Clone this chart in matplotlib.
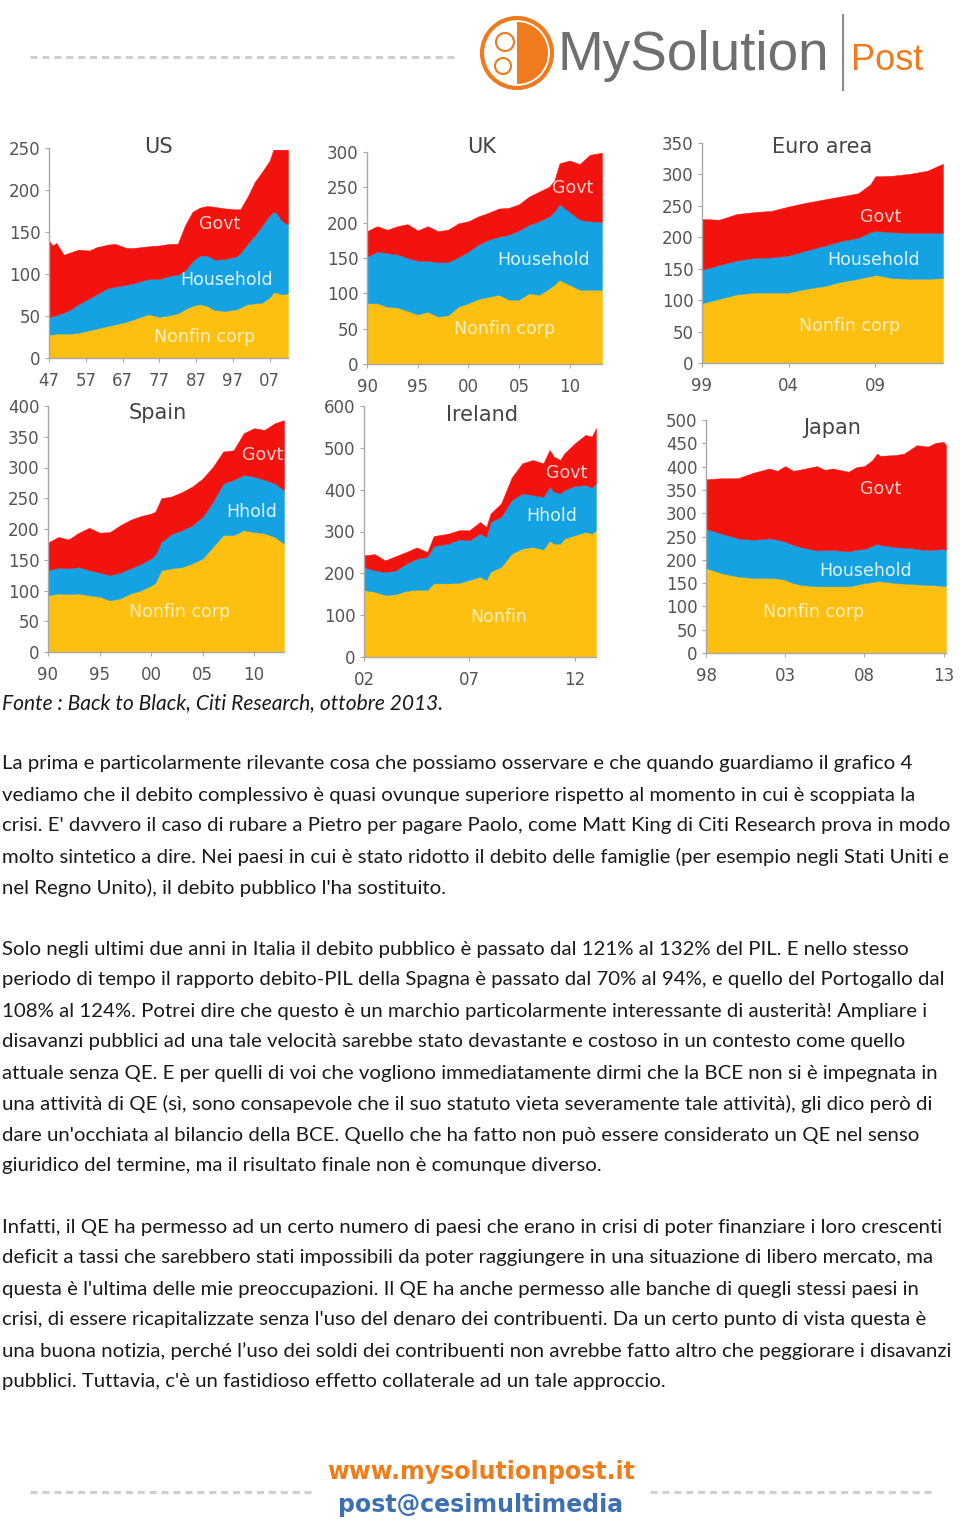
import matplotlib
matplotlib.use('Agg')
import matplotlib.pyplot as plt
from matplotlib.patches import Circle, Wedge

# colori delle aree
C_NONFIN = '#fdbf10'
C_HHOLD = '#14a2e2'
C_GOVT = '#f2130f'

# ---- dati (debito in % del PIL) ----
us_year = [1947, 1948, 1949, 1951, 1953, 1955, 1958, 1960, 1963, 1965, 1968, 1970, 1974, 1977, 1980, 1982, 1984,
           1986, 1988, 1990, 1992, 1995, 1998, 1999, 2001, 2003, 2005, 2007, 2008, 2009, 2010, 2011, 2012]
us_nonfin = [28, 28, 29, 29, 29, 30, 33, 35, 38, 40, 43, 46, 52, 49, 51, 53, 58, 62, 64, 62, 57, 56, 58, 60, 64,
             65, 66, 72, 78, 78, 76, 76, 77]
us_hhold = [20, 22, 22, 25, 29, 34, 38, 41, 45, 45, 44, 43, 42, 45, 47, 46, 46, 53, 58, 60, 60, 62, 63, 65, 72,
            81, 92, 98, 96, 94, 89, 85, 82]
us_govt = [92, 84, 86, 69, 68, 65, 57, 56, 52, 51, 44, 42, 39, 40, 38, 37, 54, 59, 57, 59, 63, 60, 56, 52, 56,
           64, 64, 65, 74, 76, 83, 87, 89]

uk_year = [1990, 1991, 1992, 1993, 1994, 1995, 1996, 1997, 1998, 1999, 2000, 2001, 2002, 2003, 2004, 2005, 2006,
           2007, 2008, 2008.5, 2009, 2010, 2011, 2012, 2013.2]
uk_nonfin = [86, 86, 81, 80, 75, 70, 74, 67, 69, 81, 86, 92, 95, 98, 91, 91, 100, 98, 107, 112, 119, 112, 105,
             105, 105]
uk_hhold = [66, 73, 76, 75, 75, 76, 72, 77, 75, 70, 73, 77, 81, 82, 92, 98, 97, 104, 102, 104, 107, 103, 99, 97, 96]
uk_govt = [36, 36, 33, 40, 48, 43, 49, 44, 46, 48, 43, 40, 38, 40, 38, 37, 40, 42, 42, 44, 58, 73, 79, 94, 98]

ea_year = [1999, 2000, 2001, 2002, 2003, 2004, 2005, 2006, 2007, 2008, 2008.7, 2009, 2010, 2011, 2012, 2012.9]
ea_nonfin = [95, 102, 109, 112, 112, 112, 118, 122, 129, 134, 138, 140, 135, 134, 134, 135]
ea_hhold = [53, 54, 54, 55, 56, 59, 61, 64, 65, 65, 70, 70, 73, 73, 73, 72]
ea_govt = [81, 72, 74, 73, 74, 78, 76, 74, 71, 71, 76, 87, 90, 94, 99, 110]

es_year = [1990, 1991, 1992, 1993, 1994, 1995, 1996, 1997, 1998, 1999, 2000, 2000.4, 2001, 2002, 2003, 2004,
           2005, 2006, 2007, 2008, 2009, 2010, 2011, 2012, 2012.9]
es_nonfin = [92, 95, 94, 95, 92, 90, 84, 87, 95, 100, 108, 112, 133, 136, 138, 144, 152, 171, 190, 190, 198, 195,
             193, 187, 176]
es_hhold = [41, 42, 42, 43, 41, 39, 41, 42, 41, 43, 44, 46, 46, 56, 60, 62, 68, 73, 84, 90, 90, 90, 87, 87, 87]
es_govt = [45, 50, 47, 56, 69, 65, 70, 77, 79, 78, 73, 70, 71, 61, 62, 63, 62, 57, 52, 48, 68, 79, 81, 98, 114]

ie_year = [2002, 2002.5, 2003, 2003.5, 2004, 2004.5, 2005, 2005.3, 2006, 2006.5, 2007, 2007.5, 2007.8, 2008,
           2008.5, 2009, 2009.5, 2010, 2010.5, 2010.8, 2011, 2011.3, 2011.5, 2012, 2012.5, 2012.8, 2013]
ie_nonfin = [160, 156, 148, 150, 158, 161, 160, 176, 176, 177, 184, 192, 184, 204, 215, 247, 259, 263, 257, 278,
             271, 271, 283, 291, 299, 295, 303]
ie_hhold = [55, 51, 55, 57, 65, 74, 79, 89, 95, 104, 95, 103, 103, 119, 120, 128, 132, 124, 126, 129, 124, 120,
            116, 118, 112, 110, 112]
ie_govt = [28, 39, 28, 34, 28, 27, 12, 24, 24, 22, 24, 28, 24, 20, 32, 54, 72, 84, 80, 88, 84, 80, 88, 102, 120,
           122, 132]

jp_year = [1998, 1999, 2000, 2001, 2002, 2002.5, 2003, 2003.5, 2004, 2005, 2005.5, 2006, 2007, 2007.5, 2008,
           2008.5, 2008.8, 2009, 2010, 2010.5, 2011, 2011.3, 2012, 2012.5, 2013, 2013.15]
jp_nonfin = [182, 171, 164, 161, 161, 160, 157, 150, 146, 143, 143, 143, 143, 146, 150, 152, 154, 154, 150, 149,
             148, 147, 146, 145, 144, 144]
jp_hhold = [84, 85, 82, 82, 85, 83, 82, 82, 81, 77, 78, 78, 75, 76, 73, 78, 80, 78, 77, 77, 77, 76, 75, 77, 79, 76]
jp_govt = [107, 119, 129, 144, 150, 148, 162, 159, 167, 181, 172, 175, 171, 177, 178, 184, 194, 191, 198, 202,
           214, 223, 222, 229, 230, 226]

# tick
us_xticks = [1947, 1957, 1967, 1977, 1987, 1997, 2007]
us_xlabels = ['47', '57', '67', '77', '87', '97', '07']
uk_xticks = [1990, 1995, 2000, 2005, 2010]
uk_xlabels = ['90', '95', '00', '05', '10']
ea_xticks = [1999, 2004, 2009]
ea_xlabels = ['99', '04', '09']
es_xticks = [1990, 1995, 2000, 2005, 2010]
es_xlabels = ['90', '95', '00', '05', '10']
ie_xticks = [2002, 2007, 2012]
ie_xlabels = ['02', '07', '12']
jp_xticks = [1998, 2003, 2008, 2013]
jp_xlabels = ['98', '03', '08', '13']

# testo
fonte = 'Fonte : Back to Black, Citi Research, ottobre 2013.'
par1 = [
    "La prima e particolarmente rilevante cosa che possiamo osservare e che quando guardiamo il grafico 4",
    "vediamo che il debito complessivo è quasi ovunque superiore rispetto al momento in cui è scoppiata la",
    "crisi. E' davvero il caso di rubare a Pietro per pagare Paolo, come Matt King di Citi Research prova in modo",
    "molto sintetico a dire. Nei paesi in cui è stato ridotto il debito delle famiglie (per esempio negli Stati Uniti e",
    "nel Regno Unito), il debito pubblico l'ha sostituito.",
]
par2 = [
    "Solo negli ultimi due anni in Italia il debito pubblico è passato dal 121% al 132% del PIL. E nello stesso",
    "periodo di tempo il rapporto debito-PIL della Spagna è passato dal 70% al 94%, e quello del Portogallo dal",
    "108% al 124%. Potrei dire che questo è un marchio particolarmente interessante di austerità! Ampliare i",
    "disavanzi pubblici ad una tale velocità sarebbe stato devastante e costoso in un contesto come quello",
    "attuale senza QE. E per quelli di voi che vogliono immediatamente dirmi che la BCE non si è impegnata in",
    "una attività di QE (sì, sono consapevole che il suo statuto vieta severamente tale attività), gli dico però di",
    "dare un'occhiata al bilancio della BCE. Quello che ha fatto non può essere considerato un QE nel senso",
    "giuridico del termine, ma il risultato finale non è comunque diverso.",
]
par3 = [
    "Infatti, il QE ha permesso ad un certo numero di paesi che erano in crisi di poter finanziare i loro crescenti",
    "deficit a tassi che sarebbero stati impossibili da poter raggiungere in una situazione di libero mercato, ma",
    "questa è l'ultima delle mie preoccupazioni. Il QE ha anche permesso alle banche di quegli stessi paesi in",
    "crisi, di essere ricapitalizzate senza l'uso del denaro dei contribuenti. Da un certo punto di vista questa è",
    "una buona notizia, perché l’uso dei soldi dei contribuenti non avrebbe fatto altro che peggiorare i disavanzi",
    "pubblici. Tuttavia, c'è un fastidioso effetto collaterale ad un tale approccio.",
]

W, H = 960, 1522
fig = plt.figure(figsize=(W / 100, H / 100), dpi=100)
fig.patch.set_facecolor('white')

# pagina (coordinate in pixel)
page = fig.add_axes([0, 0, 1, 1])
page.set_xlim(0, W)
page.set_ylim(H, 0)
page.axis('off')

BODY = ['Lato', 'DejaVu Sans']
ORANGE = '#f07a1e'


def px_axes(left, top, right, bottom):
    return fig.add_axes([left / W, 1 - bottom / H, (right - left) / W, (bottom - top) / H])


def pannello(box, year, nonfin, hhold, govt, xticks, xlabels, ymax, ystep, title, tpos, labels):
    ax = px_axes(*box)
    ax.stackplot(year, nonfin, hhold, govt, colors=[C_NONFIN, C_HHOLD, C_GOVT],
                 edgecolor='face', linewidth=0.3)
    ax.set_xlim(year[0], year[-1])
    ax.set_ylim(0, ymax)
    ax.set_xticks(xticks)
    ax.set_xticklabels(xlabels)
    ax.set_yticks(range(0, ymax + 1, ystep))
    for s in ['top', 'right']:
        ax.spines[s].set_visible(False)
    for s in ['left', 'bottom']:
        ax.spines[s].set_color('#a8a8a8')
        ax.spines[s].set_linewidth(1)
    ax.tick_params(axis='y', length=3, pad=3, labelsize=12, labelcolor='#555555', color='#a8a8a8')
    ax.tick_params(axis='x', length=3, pad=7, labelsize=12, labelcolor='#555555', color='#a8a8a8')
    ax.text(tpos[0], tpos[1], title, transform=ax.transAxes, ha='center', va='center',
            fontsize=15, color='#444444')
    for txt, x, y, col in labels:
        ax.text(x, y, txt, ha='center', va='center', fontsize=12.5, color=col, clip_on=False)
    return ax


T_GOVT, T_HH, T_NF = '#fbd3cc', '#dff5ff', '#fdf0c3'

pannello((49, 148, 288, 358), us_year, us_nonfin, us_hhold, us_govt, us_xticks, us_xlabels, 250, 50,
         'US', (0.456, 1.005),
         [('Govt', 1993.5, 159, T_GOVT), ('Household', 1995.4, 93, T_HH), ('Nonfin corp', 1989.4, 25, T_NF)])
pannello((367, 152, 602, 364), uk_year, uk_nonfin, uk_hhold, uk_govt, uk_xticks, uk_xlabels, 300, 50,
         'UK', (0.489, 1.024),
         [('Govt', 2010.3, 249, T_GOVT), ('Household', 2007.4, 147, T_HH), ('Nonfin corp', 2003.6, 49, T_NF)])
pannello((702, 143, 943, 363), ea_year, ea_nonfin, ea_hhold, ea_govt, ea_xticks, ea_xlabels, 350, 50,
         'Euro area', (0.498, 0.982),
         [('Govt', 2009.3, 232, T_GOVT), ('Household', 2008.9, 164, T_HH), ('Nonfin corp', 2007.5, 59, T_NF)])
pannello((48, 406, 284, 652), es_year, es_nonfin, es_hhold, es_govt, es_xticks, es_xlabels, 400, 50,
         'Spain', (0.466, 0.972),
         [('Govt', 2010.8, 320, T_GOVT), ('Hhold', 2009.8, 228, T_HH), ('Nonfin corp', 2002.8, 65, T_NF)])
pannello((364, 406, 596, 657), ie_year, ie_nonfin, ie_hhold, ie_govt, ie_xticks, ie_xlabels, 600, 100,
         'Ireland', (0.509, 0.964),
         [('Govt', 2011.6, 440, T_GOVT), ('Hhold', 2010.9, 337, T_HH), ('Nonfin', 2008.4, 96, T_NF)])
pannello((706, 420, 946, 653), jp_year, jp_nonfin, jp_hhold, jp_govt, jp_xticks, jp_xlabels, 500, 50,
         'Japan', (0.525, 0.966),
         [('Govt', 2009.0, 352, T_GOVT), ('Household', 2008.1, 176, T_HH), ('Nonfin corp', 2004.8, 88, T_NF)])

# ---- intestazione ----
page.plot([30, 455], [57, 57], color='#cfcfcf', lw=2.2, dashes=(2.3, 1.6))
page.add_patch(Circle((517, 53), 35, fill=False, ec=ORANGE, lw=3))
page.add_patch(Wedge((517, 53), 31, -90, 90, fc=ORANGE, ec='none'))
page.add_patch(Circle((505, 42), 9, fill=False, ec=ORANGE, lw=1.5))
page.add_patch(Circle((503, 66), 8, fill=False, ec=ORANGE, lw=1.5))
page.text(558, 56, 'MySolution', fontsize=39.5, color='#6f6f6f', family=['Liberation Sans', 'DejaVu Sans'],
          ha='left', va='center')
page.plot([843, 843], [15, 90], color='#8a8a8a', lw=1.5)
page.text(851, 60, 'Post', fontsize=26, color=ORANGE, family=['Liberation Sans', 'DejaVu Sans'],
          ha='left', va='center')

# ---- testo ----
page.text(2, 703, fonte, fontsize=15.1, style='italic', family=BODY, color='#1a1a1a', va='center')
for start, par in [(764, par1), (949, par2), (1227, par3)]:
    for i, riga in enumerate(par):
        page.text(2, start + 31 * i, riga, fontsize=14.7, family=BODY, color='#1a1a1a', va='center')

# ---- piè di pagina ----
page.plot([30, 312], [1492, 1492], color='#cfcfcf', lw=2.2, dashes=(2.3, 1.6))
page.plot([650, 935], [1492, 1492], color='#cfcfcf', lw=2.2, dashes=(2.3, 1.6))
page.text(481, 1472, 'www.mysolutionpost.it', fontsize=17, fontweight='bold', color='#f07d1a',
          ha='center', va='center')
page.text(481, 1505, 'post@cesimultimedia', fontsize=17, fontweight='bold', color='#3d6fb3',
          ha='center', va='center')

fig.savefig('out.png', dpi=100, facecolor='white')
